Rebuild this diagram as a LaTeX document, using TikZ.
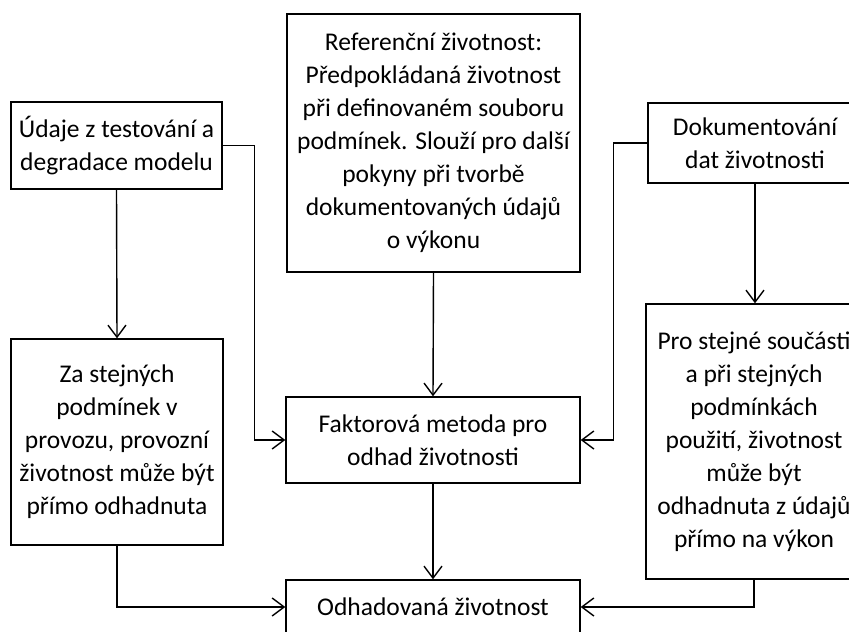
\documentclass[tikz,border=0pt]{standalone}
\usepackage{fontspec}
\setmainfont{Carlito}
\usetikzlibrary{arrows.meta}
\begin{document}
\begin{tikzpicture}
		[x=1pt,y=-1pt,
		box/.style={draw,line width=1.4pt,align=center,inner sep=0pt,
			font=\fontsize{25.5}{33}\selectfont},
		flow/.style={line width=1.4pt,-{Straight Barb[length=12pt,width=18pt,line width=1.4pt]}}]
		\useasboundingbox (0,0) rectangle (849,632);
		% top row
		\node[box,minimum width=211pt,minimum height=87pt] (data) at (116.5,145.5)
			{Údaje z testování a\\degradace modelu};
		\node[box,minimum width=293pt,minimum height=258pt] (ref) at (433.5,143)
			{Referenční životnost:\\Předpokládaná životnost\\při definovaném souboru\\podmínek. Slouží pro další\\pokyny při tvorbě\\dokumentovaných údajů\\o výkonu};
		\node[box,minimum width=214pt,minimum height=80pt] (doc) at (755,143)
			{Dokumentování\\dat životnosti};
		% middle row
		\node[box,minimum width=212pt,minimum height=206pt] (same) at (117,442)
			{Za stejných\\podmínek v\\provozu, provozní\\životnost může být\\přímo odhadnuta};
		\node[box,minimum width=294pt,minimum height=86pt] (factor) at (433,440)
			{Faktorová metoda pro\\odhad životnosti};
		\node[box,minimum width=216pt,minimum height=275pt] (parts) at (754,441.5)
			{Pro stejné součásti\\a při stejných\\podmínkách\\použití, životnost\\může být\\odhadnuta z údajů\\přímo na výkon};
		% bottom
		\node[box,minimum width=294pt,minimum height=54pt] (est) at (433,607)
			{Odhadovaná životnost};
		% connectors
		\draw[flow] (data.south) -- (same.north);
		\draw[flow] (data.east) -- ++(32,0) |- (factor.west);
		\draw[flow] (ref.south) -- (factor.north);
		\draw[flow] (doc.west) -- ++(-34,0) |- (factor.east);
		\draw[flow] (doc.south) -- (doc.south |- parts.north);
		\draw[flow] (factor.south) -- (est.north);
		\draw[flow] (same.south) |- (est.west);
		\draw[flow] (parts.south) |- (est.east);
	\end{tikzpicture}
\end{document}
